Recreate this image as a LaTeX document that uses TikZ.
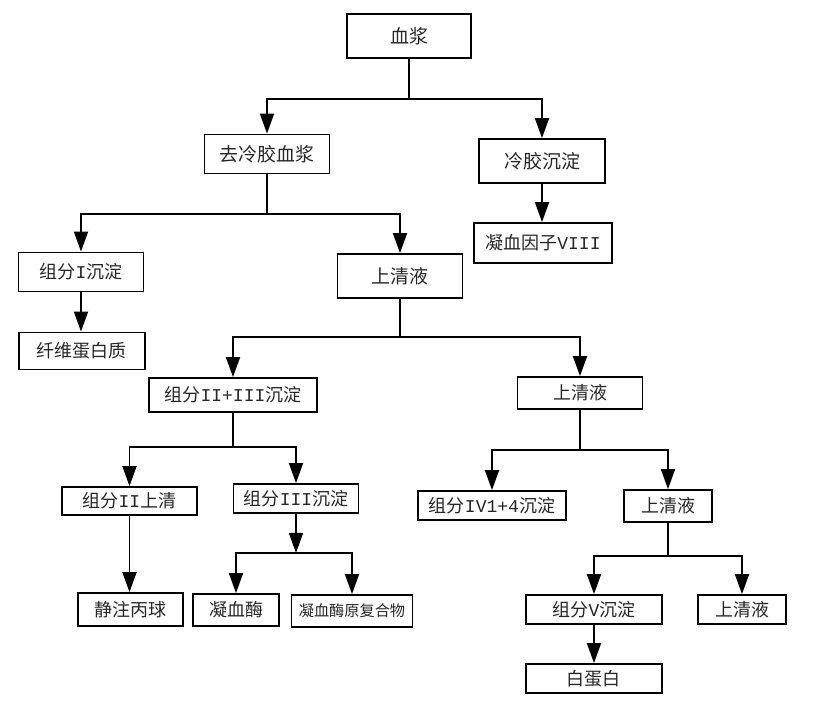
\documentclass[tikz,border=0pt]{standalone}
\usepackage{fontspec}
\setmainfont{Noto Sans CJK SC}
\newfontfamily\latfont{Liberation Mono}
\newcommand{\lat}[1]{{\latfont #1}}
\usetikzlibrary{arrows.meta,calc}

\begin{document}
\begin{tikzpicture}[
    x=0.5pt, y=-0.5pt,
    box/.style={rectangle, draw, line width=0.9pt, inner sep=0pt, text=black!85,
                font=\fontsize{9}{10}\selectfont},
    big/.style={font=\fontsize{9.5}{11}\selectfont},
    small/.style={font=\fontsize{7.6}{9}\selectfont},
    arr/.style={-{Triangle[length=10pt,width=7pt]}, line width=0.9pt},
    link/.style={line width=0.9pt}
]
\useasboundingbox (0,0) rectangle (827,704);

% Plasma and cryo step
\node[box, big, minimum width=62pt, minimum height=22pt] (plasma) at (409,36) {血浆};
\node[box, big, minimum width=62.5pt, minimum height=19.5pt] (decryo) at (267,154) {去冷胶血浆};
\node[box, big, minimum width=63pt, minimum height=22pt] (cryo) at (542,161) {冷胶沉淀};
\node[box, minimum width=69pt, minimum height=20pt] (f8) at (543,243) {凝血因子\lat{VIII}};
\coordinate (b0) at (409,99);
\draw[link] (plasma.south) -- (b0);
\draw[arr] (b0) -| (decryo);
\draw[arr] (b0) -| (cryo);
\draw[arr] (cryo.south) -- (cryo.south |- f8.north);

% Fraction I
\node[box, minimum width=62.5pt, minimum height=19.5pt] (fI) at (81,272) {组分\lat{I}沉淀};
\node[box, big, minimum width=62.5pt, minimum height=22pt] (sup1) at (400,276) {上清液};
\node[box, minimum width=63pt, minimum height=18.5pt] (fib) at (82,351) {纤维蛋白质};
\coordinate (b1) at (267,214);
\draw[link] (decryo.south) -- (b1);
\draw[arr] (b1) -| (fI);
\draw[arr] (b1) -| (sup1);
\draw[arr] (fI.south) -- (fI.south |- fib.north);

% Fraction II+III
\node[box, minimum width=84pt, minimum height=17pt] (fII3) at (233,395) {组分\lat{II+III}沉淀};
\node[box, minimum width=62.5pt, minimum height=16pt] (sup2) at (580,393) {上清液};
\coordinate (b2) at (400,337);
\draw[link] (sup1.south) -- (b2);
\draw[arr] (b2) -| (fII3);
\draw[arr] (b2) -| (sup2);

\node[box, minimum width=67.5pt, minimum height=14pt] (fII) at (129.5,501) {组分\lat{II}上清};
\node[box, minimum width=62.5pt, minimum height=14.5pt] (fIII) at (296,498.5) {组分\lat{III}沉淀};
\coordinate (b3) at (233,447);
\draw[link] (fII3.south) -- (b3);
\draw[arr] (b3) -| (fII);
\draw[arr] (b3) -| (fIII);

\node[box, minimum width=52.5pt, minimum height=16.5pt] (ivig) at (130.5,609.5) {静注丙球};
\node[box, minimum width=43pt, minimum height=16pt] (thr) at (236,610) {凝血酶};
\node[box, small, minimum width=60.5pt, minimum height=16pt] (pcc) at (352,611) {凝血酶原复合物};
\draw[arr] (fII.south) -- (fII.south |- ivig.north);
\coordinate (b5) at (296,553);
\draw[arr] (fIII.south) -- (b5);
\draw[arr] (b5) -| (thr);
\draw[arr] (b5) -| (pcc);

% Fraction IV and V
\node[box, minimum width=74pt, minimum height=14.5pt] (fIV) at (492,505.5) {组分\lat{IV1+4}沉淀};
\node[box, minimum width=44pt, minimum height=16pt] (sup3) at (668,506) {上清液};
\coordinate (b4) at (580,450);
\draw[link] (sup2.south) -- (b4);
\draw[arr] (b4) -| (fIV);
\draw[arr] (b4) -| (sup3);

\node[box, minimum width=68pt, minimum height=14.5pt] (fV) at (594,609.5) {组分\lat{V}沉淀};
\node[box, minimum width=44pt, minimum height=14.5pt] (sup4) at (742,609.5) {上清液};
\node[box, minimum width=68pt, minimum height=14.5pt] (alb) at (594,678.5) {白蛋白};
\coordinate (b6) at (668,556);
\draw[link] (sup3.south) -- (b6);
\draw[arr] (b6) -| (fV);
\draw[arr] (b6) -| (sup4);
\draw[arr] (fV.south) -- (fV.south |- alb.north);

\end{tikzpicture}
\end{document}
